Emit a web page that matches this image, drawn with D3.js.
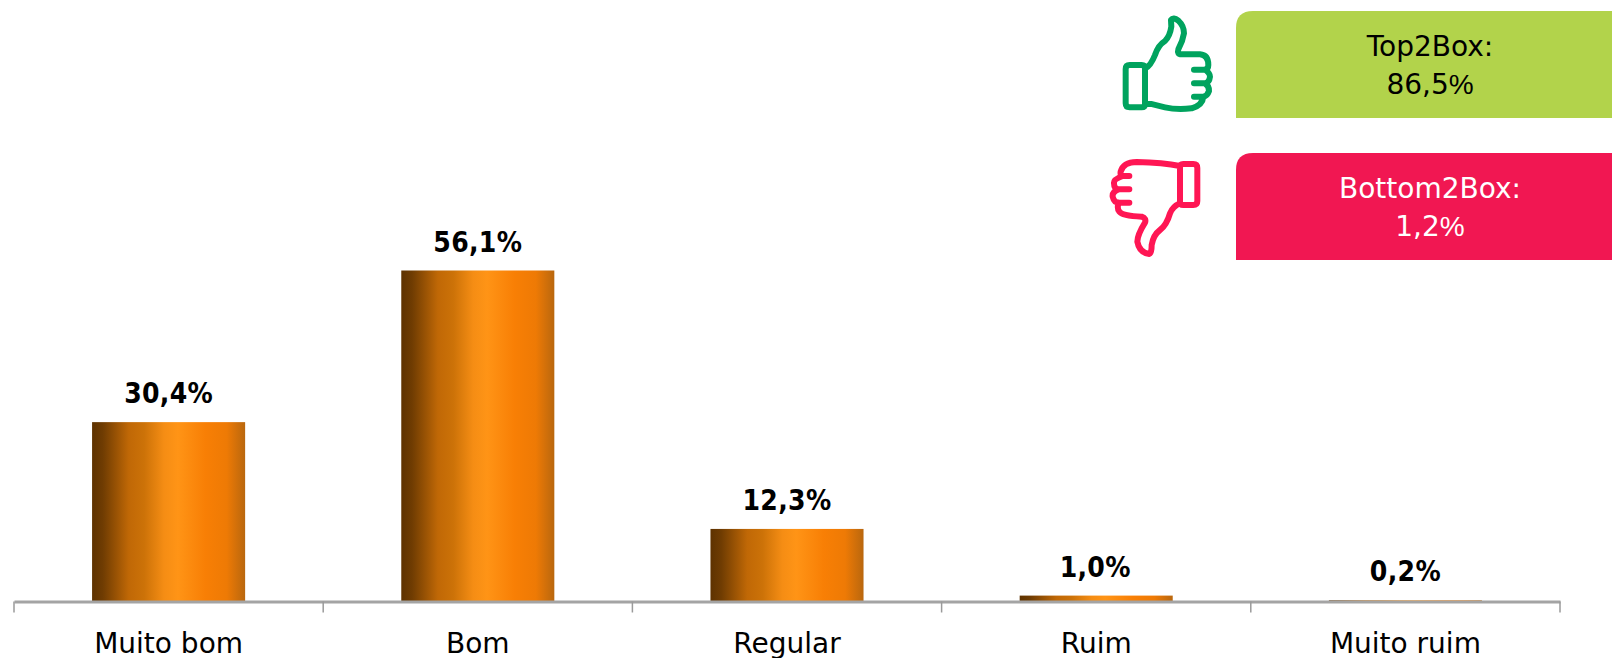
<!DOCTYPE html>
<html><head><meta charset="utf-8">
<script src="https://cdn.jsdelivr.net/npm/d3@7"></script>
<style>
html,body{margin:0;padding:0;background:#fff;overflow:hidden}
svg{display:block}
text{font-family:"DejaVu Sans",sans-serif}
.val{font-family:"DejaVu Sans Condensed","DejaVu Sans",sans-serif;font-stretch:condensed}
</style></head><body>
<script>
const categories = ["Muito bom","Bom","Regular","Ruim","Muito ruim"];
const values = [30.4,56.1,12.3,1.0,0.2];
const valueLabels = ["30,4%","56,1%","12,3%","1,0%","0,2%"];
const summaryTitles = ["Top2Box:","Bottom2Box:"];
const summaryValues = ["86,5","1,2"];
const summaryFills = ["#b2d34b","#f11752"];
const summaryInk = ["#000000","#ffffff"];
const summaryTops = [11,153];
const iconColors = ["#00a35e","#ff1654"];

const W=1612,H=658,axisY=601.5;
const svg=d3.select("body").append("svg").attr("width",W).attr("height",H);
const defs=svg.append("defs");
const grad=defs.append("linearGradient").attr("id","barGrad").attr("x1",0).attr("x2",1).attr("y1",0).attr("y2",0);
[[0,"#5e3200"],[0.07,"#6f3c02"],[0.24,"#c06806"],[0.34,"#cc7208"],[0.47,"#f58d14"],[0.56,"#ff9416"],[0.74,"#f87f05"],[0.88,"#ee7a05"],[1,"#b9670e"]]
 .forEach(([o,c])=>grad.append("stop").attr("offset",o).attr("stop-color",c));

const padInner=0.505, padOuter=0.2525;
const x=d3.scaleBand().domain(categories).range([14,1560]).paddingInner(padInner).paddingOuter(padOuter);
const y=d3.scaleLinear().domain([0,56.1]).range([axisY,270.5]);

svg.selectAll("rect.bar").data(values).join("rect").attr("class","bar")
 .attr("x",(d,i)=>x(categories[i])).attr("width",x.bandwidth())
 .attr("y",d=>y(d)).attr("height",d=>axisY-y(d))
 .attr("fill","url(#barGrad)");

const axis=svg.append("g").attr("transform",`translate(0,${axisY})`)
 .call(d3.axisBottom(x).tickSize(0).tickPadding(32));
axis.select(".domain").attr("stroke","#a4a4a4").attr("stroke-width",3);
axis.selectAll(".tick text").attr("fill","#000").attr("font-size",28)
 .attr("font-family",'"DejaVu Sans",sans-serif');

const edges=[...categories.map(c=>x(c)-x.step()*padOuter),x(categories[4])+x.bandwidth()+x.step()*padOuter];
svg.selectAll("line.edge").data(edges).join("line").attr("class","edge")
 .attr("x1",d=>d).attr("x2",d=>d).attr("y1",axisY).attr("y2",axisY+11)
 .attr("stroke","#9a9a9a").attr("stroke-width",1.5);

svg.selectAll("text.val").data(values).join("text").attr("class","val")
 .attr("x",(d,i)=>x(categories[i])+x.bandwidth()/2+(i==3?-1:0)).attr("y",d=>y(d)-19)
 .attr("text-anchor","middle").attr("font-size",28).attr("font-weight",700).attr("fill","#000")
 .attr("letter-spacing",0.3)
 .text((d,i)=>valueLabels[i]);

const boxH=107;
const boxX=1236;
summaryTitles.forEach((t,i)=>{
 const top=summaryTops[i];
 const r=17;
 svg.append("path").attr("fill",summaryFills[i])
  .attr("d",`M${boxX},${top+boxH}V${top+r}Q${boxX},${top} ${boxX+r},${top}H${W}V${top+boxH}Z`);
 svg.append("text").attr("x",1430).attr("y",top+45).attr("text-anchor","middle")
  .attr("font-size",28).attr("fill",summaryInk[i]).text(t);
 const v=svg.append("text").attr("x",1430).attr("y",top+83).attr("text-anchor","middle")
  .attr("font-size",28).attr("fill",summaryInk[i]);
 v.append("tspan").text(summaryValues[i]);
 v.append("tspan").style("font-family",'"Liberation Sans"').attr("font-weight",300).text("%");
});

const up="M47,177Q47,165 59,165H95Q105,165 105,175V282Q105,292 95,292H59Q47,292 47,280Z M105,176Q122,168 135,135Q145,105 165,93Q180,78 184,50L183,30Q190,20 205,32Q222,48 222,70Q218,95 205,118Q200,133 215,133H270Q295,135 295,165Q295,178 285,179H252 M285,179Q300,190 300,200Q298,218 285,220H252 M285,220Q298,228 297,243Q292,258 280,260H252 M280,260Q278,285 245,295Q200,300 165,292L108,278";
const down="M292,54Q292,42 280,42H250Q240,42 240,52V155Q240,165 250,165H280Q292,165 292,153Z M240,48Q190,38 110,36Q70,36 62,65Q60,75 68,78H88 M68,78Q40,88 42,100Q42,118 56,118H88 M56,118Q36,125 38,140Q42,158 56,158H88 M56,158Q50,175 58,185Q68,198 125,200Q140,205 135,218Q112,255 112,275Q118,308 148,312Q155,310 155,285Q160,255 180,240Q200,225 210,190Q218,170 240,160";
svg.append("path").attr("d",up).attr("transform","translate(1110,10) scale(0.3333)")
 .attr("fill","none").attr("stroke",iconColors[0]).attr("stroke-width",18).attr("stroke-linecap","round").attr("stroke-linejoin","round");
svg.append("path").attr("d",down).attr("transform","translate(1100,150) scale(0.3333)")
 .attr("fill","none").attr("stroke",iconColors[1]).attr("stroke-width",18).attr("stroke-linecap","round").attr("stroke-linejoin","round");
</script>
</body></html>
